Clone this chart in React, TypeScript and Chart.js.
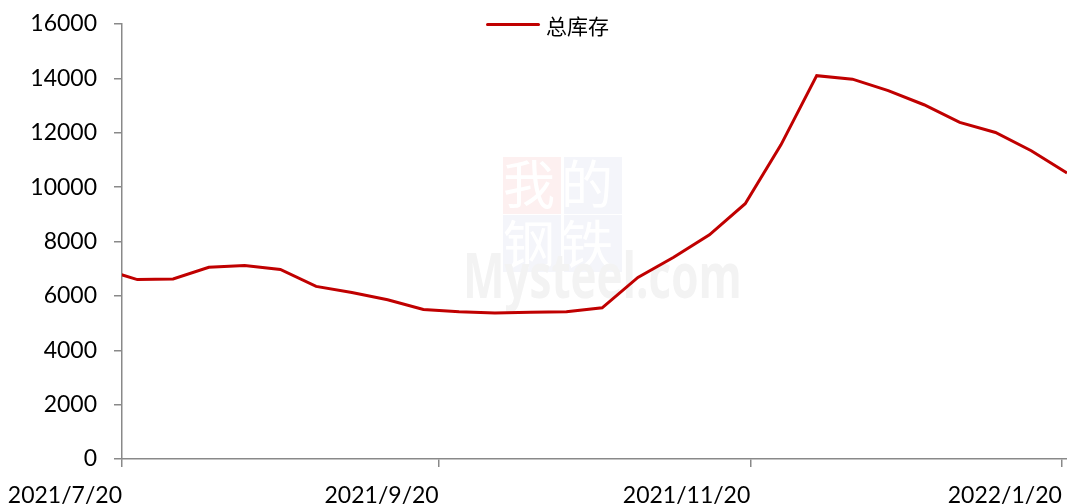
import React, { useEffect, useRef } from "react";
import { Chart, registerables } from "chart.js";

Chart.register(...registerables);

const dates: string[] = [
  "2021-07-16", "2021-07-23", "2021-07-30", "2021-08-06", "2021-08-13", "2021-08-20",
  "2021-08-27", "2021-09-03", "2021-09-10", "2021-09-17", "2021-09-24", "2021-10-01",
  "2021-10-08", "2021-10-15", "2021-10-22", "2021-10-29", "2021-11-05", "2021-11-12",
  "2021-11-19", "2021-11-26", "2021-12-03", "2021-12-10", "2021-12-17", "2021-12-24",
  "2021-12-31", "2022-01-07", "2022-01-14", "2022-01-21",
];
const totalStock: number[] = [
  7000, 6600, 6620, 7050, 7120, 6970,
  6350, 6125, 5860, 5500, 5420, 5370,
  5400, 5420, 5560, 6680, 7420, 8245,
  9390, 11555, 14100, 13970, 13550, 13030,
  12380, 12010, 11340, 10520,
];
const xTickDates: string[] = ["2021-07-20", "2021-09-20", "2021-11-20", "2022-01-20"];
const xTickLabels: string[] = ["2021/7/20", "2021/9/20", "2021/11/20", "2022/1/20"];
const seriesName = "总库存";
const axisStart = "2021-07-20";
const axisEnd = "2022-01-21";

const dayOf = (s: string) => {
  const [y, m, d] = s.split("-").map(Number);
  return Math.round((Date.UTC(y, m - 1, d) - Date.UTC(2021, 6, 20)) / 86400000);
};

export default function App() {
  const ref = useRef<HTMLCanvasElement | null>(null);
  useEffect(() => {
    if (!ref.current) return;
    const tickDays = xTickDates.map(dayOf);
    const chart = new Chart(ref.current, {
      type: "line",
      data: {
        datasets: [
          {
            label: seriesName,
            data: dates.map((d, i) => ({ x: dayOf(d), y: totalStock[i] })),
            borderColor: "#C00000",
            backgroundColor: "#C00000",
            borderWidth: 3,
            pointRadius: 0,
            tension: 0,
            clip: 0,
          },
        ],
      },
      options: {
        animation: false,
        responsive: false,
        layout: { padding: { top: 24, right: 0, left: 0, bottom: 0 } },
        plugins: { legend: { display: false }, tooltip: { enabled: false } },
        scales: {
          x: {
            type: "linear",
            min: dayOf(axisStart),
            max: dayOf(axisEnd),
            afterBuildTicks: (s: any) => {
              s.ticks = tickDays.map((v) => ({ value: v }));
            },
            afterFit: (s: any) => {
              s.height = 45;
              s.paddingLeft = 0;
              s.paddingRight = 0;
            },
            ticks: {
              autoSkip: false,
              maxRotation: 0,
              align: "end",
              padding: 15,
              color: "#000",
              font: { family: "Lato", size: 23 },
              callback: (v: any) => {
                const i = tickDays.indexOf(Number(v));
                return i >= 0 ? xTickLabels[i] : "";
              },
            },
            grid: { drawOnChartArea: false, drawTicks: true, tickLength: 8, color: "#898989", lineWidth: 1.5 },
            border: { color: "#898989", width: 1.5 },
          },
          y: {
            min: 0,
            max: 16000,
            afterFit: (s: any) => {
              s.width = 122;
              s.paddingTop = 0;
              s.paddingBottom = 0;
            },
            ticks: {
              stepSize: 2000,
              padding: 17,
              color: "#000",
              font: { family: "Lato", size: 23 },
              callback: (v: any) => String(v),
            },
            grid: { drawOnChartArea: false, drawTicks: true, tickLength: 8, color: "#898989", lineWidth: 1.5 },
            border: { color: "#898989", width: 1.5 },
          },
        },
      },
    });
    return () => chart.destroy();
  }, []);

  return (
    <div style={{ position: "fixed", left: 0, top: 0, width: 1067, height: 504, background: "#fff", overflow: "hidden" }}>
      <div style={{ position: "absolute", left: 503, top: 157, width: 58, height: 57, background: "#fdf0f0" }} />
      <div style={{ position: "absolute", left: 564, top: 157, width: 58, height: 57, background: "#f4f5fa" }} />
      <div style={{ position: "absolute", left: 503, top: 215, width: 58, height: 57, background: "#f4f5fa" }} />
      <div style={{ position: "absolute", left: 564, top: 215, width: 58, height: 57, background: "#f4f5fa" }} />
      <div style={{ position: "absolute", left: 503, top: 152, width: 120, fontFamily: "'Noto Sans CJK SC'", fontSize: 52, lineHeight: "60px", color: "#ffffff", letterSpacing: 6, whiteSpace: "nowrap" }}>
        我的<br />钢铁
      </div>
      <div style={{ position: "absolute", left: 463, top: 234, fontFamily: "'Open Sans'", fontWeight: 700, fontSize: 62, lineHeight: "80px", color: "#f3f3f3", whiteSpace: "nowrap", transform: "scaleX(0.71)", transformOrigin: "left top" }}>
        Mysteel.com
      </div>
      <canvas ref={ref} width={1067} height={504} style={{ position: "absolute", left: 0, top: 0 }} />
      <div style={{ position: "absolute", left: 486, top: 23, width: 54, height: 3, background: "#C00000", borderRadius: 1.5 }} />
      <div style={{ position: "absolute", left: 546, top: 10, fontFamily: "'Noto Sans CJK SC'", fontSize: 21, lineHeight: "30px", color: "#000", whiteSpace: "nowrap" }}>
        {seriesName}
      </div>
    </div>
  );
}
